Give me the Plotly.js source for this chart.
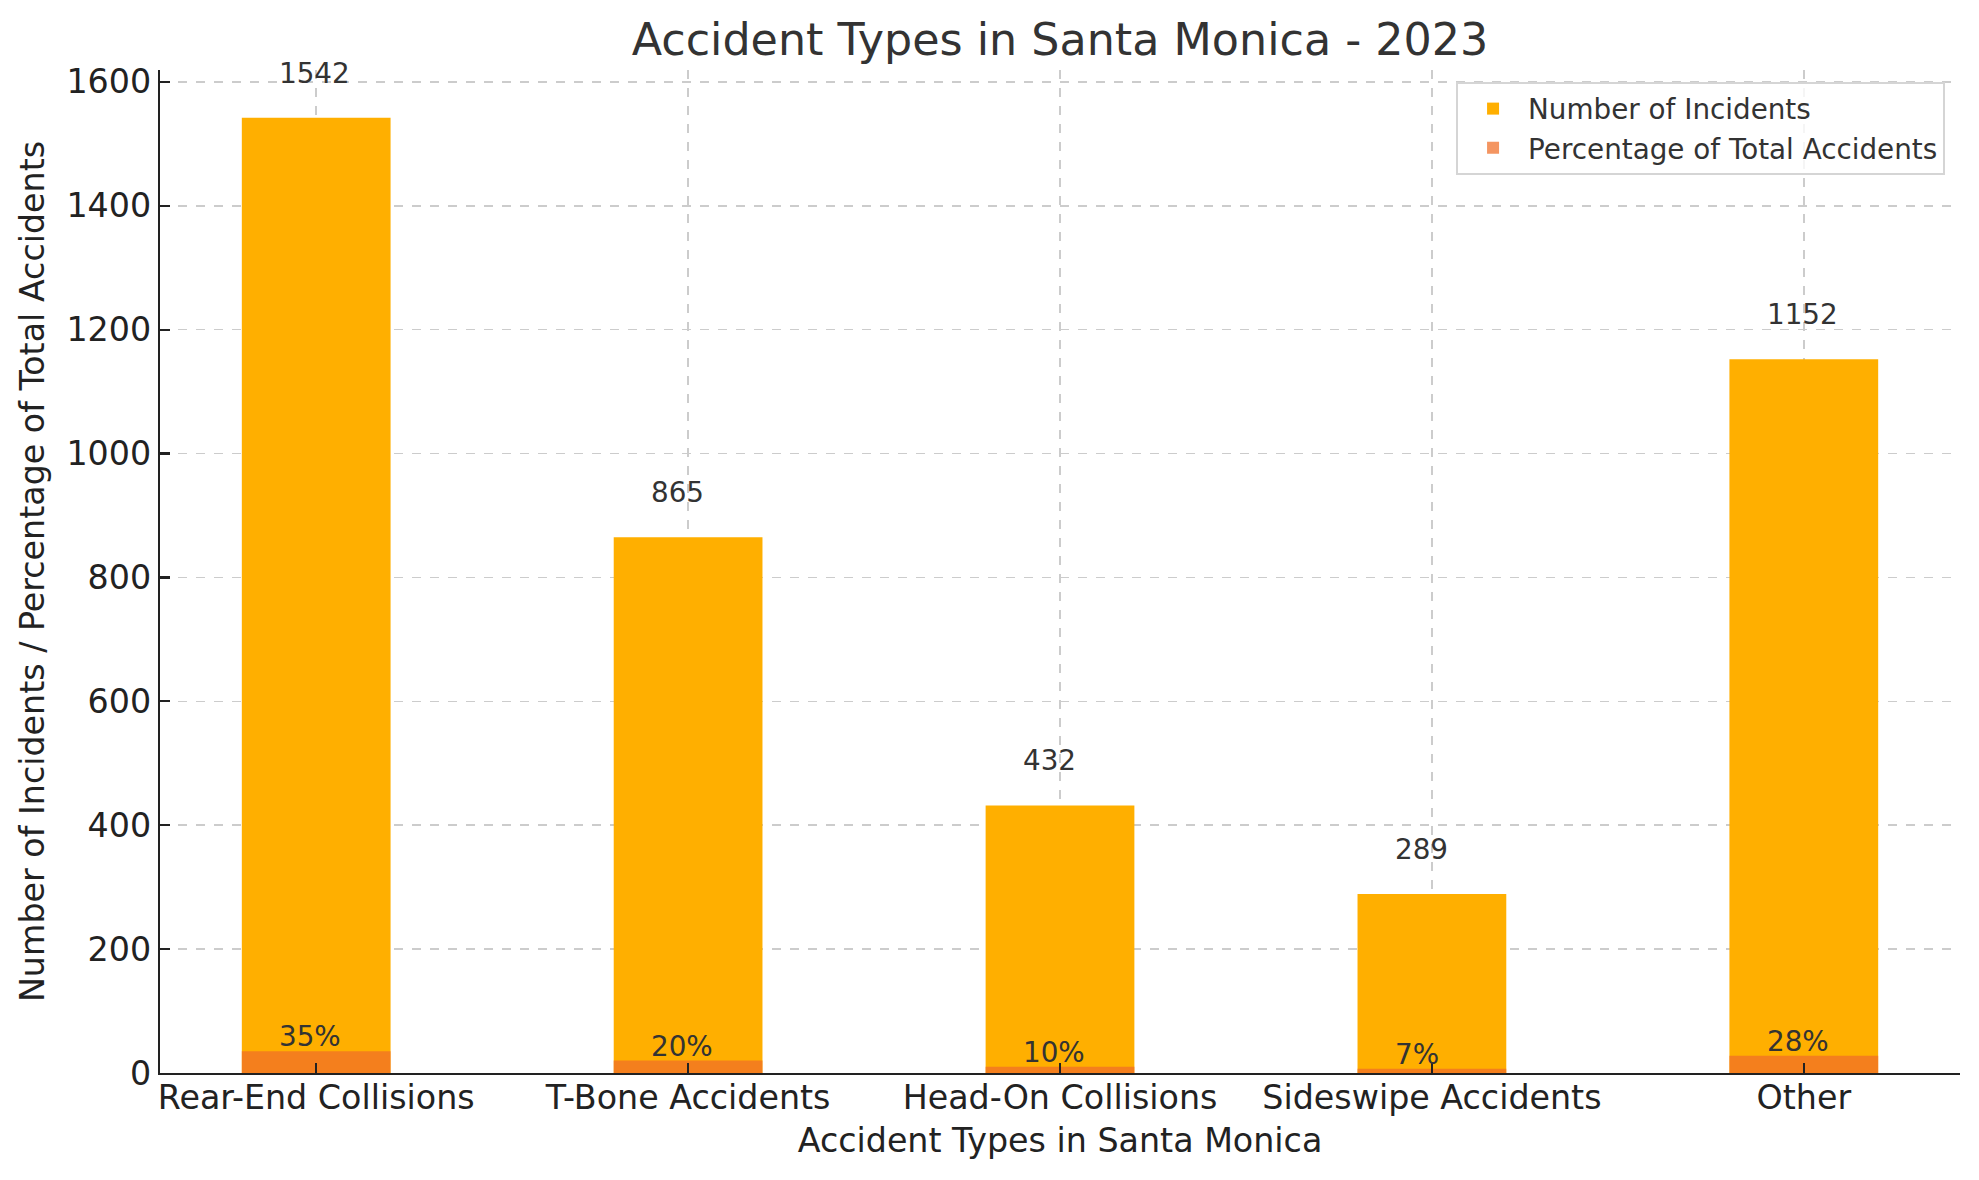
<!DOCTYPE html>
<html>
<head>
<meta charset="utf-8">
<script src="https://cdn.plot.ly/plotly-3.0.1.min.js"></script>
<style>html,body{margin:0;padding:0;background:#fff;}#chart{width:1979px;height:1180px;}</style>
</head>
<body>
<div id="chart"></div>
<script>
const categories = ["Rear-End Collisions", "T-Bone Accidents", "Head-On Collisions", "Sideswipe Accidents", "Other"];
const incidents = [1542, 865, 432, 289, 1152];
const percentages = [35, 20, 10, 7, 28];
const percentLabels = ["35%", "20%", "10%", "7%", "28%"];

const FONT = "DejaVu Sans, sans-serif";

const traces = [
  {
    type: "bar", name: "Number of Incidents", x: categories, y: incidents,
    width: 0.4, marker: {color: "#FFAF00", line: {width: 0}}, hoverinfo: "none"
  },
  {
    type: "bar", name: "Percentage of Total Accidents", x: categories, y: percentages,
    width: 0.4, marker: {color: "rgb(240,110,40)", line: {width: 0}}, opacity: 0.73, hoverinfo: "none"
  }
];

const annotations = [];
categories.forEach((c, i) => {
  annotations.push({
    x: i - 0.1, y: incidents[i] + 50, xref: "x", yref: "y", text: String(incidents[i]),
    showarrow: false, yanchor: "bottom", xanchor: "left", yshift: -5, xshift: -2,
    font: {family: FONT, size: 27.8, color: "#333333"}
  });
  annotations.push({
    x: i - 0.1, y: percentages[i], xref: "x", yref: "y", text: percentLabels[i],
    showarrow: false, yanchor: "bottom", xanchor: "left", yshift: -4, xshift: -2,
    font: {family: FONT, size: 27.8, color: "#333333"}
  });
});

const layout = {
  width: 1979, height: 1180,
  paper_bgcolor: "#ffffff", plot_bgcolor: "#ffffff",
  margin: {l: 160, r: 19, t: 70, b: 107, pad: 0},
  barmode: "overlay",
  font: {family: FONT, color: "#222222"},
  title: {
    text: "Accident Types in Santa Monica - 2023",
    font: {family: FONT, size: 44.4, color: "#333333"},
    x: 0.5, xanchor: "center", xref: "paper",
    y: 1 - 39 / 1180, yref: "container", yanchor: "middle"
  },
  xaxis: {
    type: "category", range: [-0.42, 4.42],
    showline: true, linecolor: "#222222", linewidth: 2.2, mirror: false,
    ticks: "inside", ticklen: 9.7, tickwidth: 2.2, tickcolor: "#222222",
    tickfont: {family: FONT, size: 33.3, color: "#222222"},
    ticklabelstandoff: -6,
    showgrid: true, gridcolor: "#cccccc", gridwidth: 1.6, griddash: "dash",
    title: {text: "Accident Types in Santa Monica", font: {family: FONT, size: 33.3, color: "#222222"}, standoff: 13},
    fixedrange: true
  },
  yaxis: {
    range: [0, 1619.1], tickvals: [0, 200, 400, 600, 800, 1000, 1200, 1400, 1600],
    showline: true, linecolor: "#222222", linewidth: 2.2, mirror: false,
    ticks: "inside", ticklen: 9.7, tickwidth: 2.2, tickcolor: "#222222",
    tickfont: {family: FONT, size: 33.3, color: "#222222"},
    showgrid: true, gridcolor: "#cccccc", gridwidth: 1.6, griddash: "dash",
    zeroline: false,
    title: {text: "Number of Incidents / Percentage of Total Accidents", font: {family: FONT, size: 33.3, color: "#222222"}, standoff: 12},
    fixedrange: true
  },
  showlegend: true,
  legend: {
    x: 0.9917, xanchor: "right", y: 0.988, yanchor: "top",
    bgcolor: "rgba(255,255,255,0.8)", bordercolor: "#d5d5d5", borderwidth: 2,
    font: {family: FONT, size: 27.8, color: "#333333"},
    traceorder: "normal", itemwidth: 60
  },
  annotations: annotations
};

Plotly.newPlot("chart", traces, layout, {staticPlot: true, displayModeBar: false});
</script>
</body>
</html>
